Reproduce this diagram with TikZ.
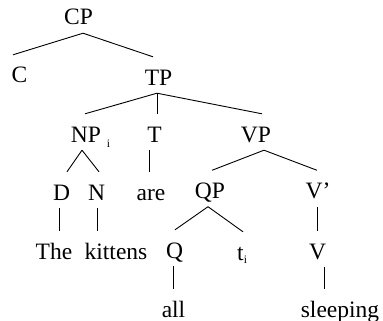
\documentclass[tikz,border=0pt]{standalone}
\usepackage{fontspec}
\setmainfont{Liberation Serif}
\tikzset{
  lab/.style={anchor=base, inner xsep=0pt, inner ysep=8pt, text height=20pt, text depth=0pt, font=\fontsize{23.5}{28}\selectfont},
  sub/.style={anchor=base, inner sep=0pt, font=\fontsize{11.5}{13}\selectfont},
  edge/.style={line width=0.9pt, black}
}
\begin{document}
\begin{tikzpicture}[x=1pt, y=-1pt]
\useasboundingbox (0,0) rectangle (383,321);
% row 1
\node[lab] (CP) at (78.5,25) {CP};
% row 2
\node[lab] (C) at (19.5,83) {C};
\node[lab] (TP) at (158.5,85) {TP};
% row 3
\node[lab] (NP) at (86,142) {NP};
\node[sub] (NPi) at (108.5,147) {i};
\node[lab] (T) at (154.5,142) {T};
\node[lab] (VP) at (256,142) {VP};
% row 4
\node[lab] (D) at (61.5,200) {D};
\node[lab] (N) at (96.5,200) {N};
\node[lab] (are) at (151,200) {are};
\node[lab] (QP) at (210,198.5) {QP};
\node[lab] (Vbar) at (318,198.5) {V’};
% row 5
\node[lab] (The) at (54,259) {The};
\node[lab] (kittens) at (116,259) {kittens};
\node[lab] (Q) at (174.5,258) {Q};
\node[lab] (t) at (240.5,260) {t};
\node[sub] (ti) at (245.5,263) {i};
\node[lab] (V) at (317.5,259) {V};
% row 6
\node[lab] (all) at (173.5,317) {all};
\node[lab] (sleeping) at (340,317) {sleeping};
% edges
\draw[edge] ([xshift=4.5pt]CP.south) -- ([xshift=-6.5pt]C.north);
\draw[edge] ([xshift=4.5pt]CP.south) -- ([xshift=-5.5pt]TP.north);
\draw[edge] ([xshift=-1.5pt]TP.south) -- ([xshift=-1pt]NP.north);
\draw[edge] ([xshift=-1.5pt]TP.south) -- ([xshift=2.5pt]T.north);
\draw[edge] ([xshift=-1.5pt]TP.south) -- ([xshift=6pt]VP.north);
\draw[edge] ([xshift=-4pt]NP.south) -- ([xshift=5.5pt]D.north);
\draw[edge] ([xshift=-4pt]NP.south) -- ([xshift=2.5pt]N.north);
\draw[edge] ([xshift=-5.5pt]T.south) -- ([xshift=-2pt]are.north);
\draw[edge] ([xshift=8pt]VP.south) -- ([xshift=2pt]QP.north);
\draw[edge] ([xshift=8pt]VP.south) -- ([xshift=-1pt]Vbar.north);
\draw[edge] ([xshift=-2.5pt]D.south) -- ([xshift=5pt]The.north);
\draw[edge] ([xshift=0.5pt]N.south) -- ([xshift=-19pt]kittens.north);
\draw[edge] ([xshift=-2pt]QP.south) -- ([xshift=0.5pt]Q.north);
\draw[edge] ([xshift=-2pt]QP.south) -- ([xshift=2.5pt]t.north);
\draw[edge] ([xshift=-1pt]Vbar.south) -- ([xshift=-0.5pt]V.north);
\draw[edge] ([xshift=-1.5pt]Q.south) -- ([xshift=-0.5pt]all.north);
\draw[edge] ([xshift=6.5pt]V.south) -- ([xshift=-16pt]sleeping.north);
\end{tikzpicture}
\end{document}
